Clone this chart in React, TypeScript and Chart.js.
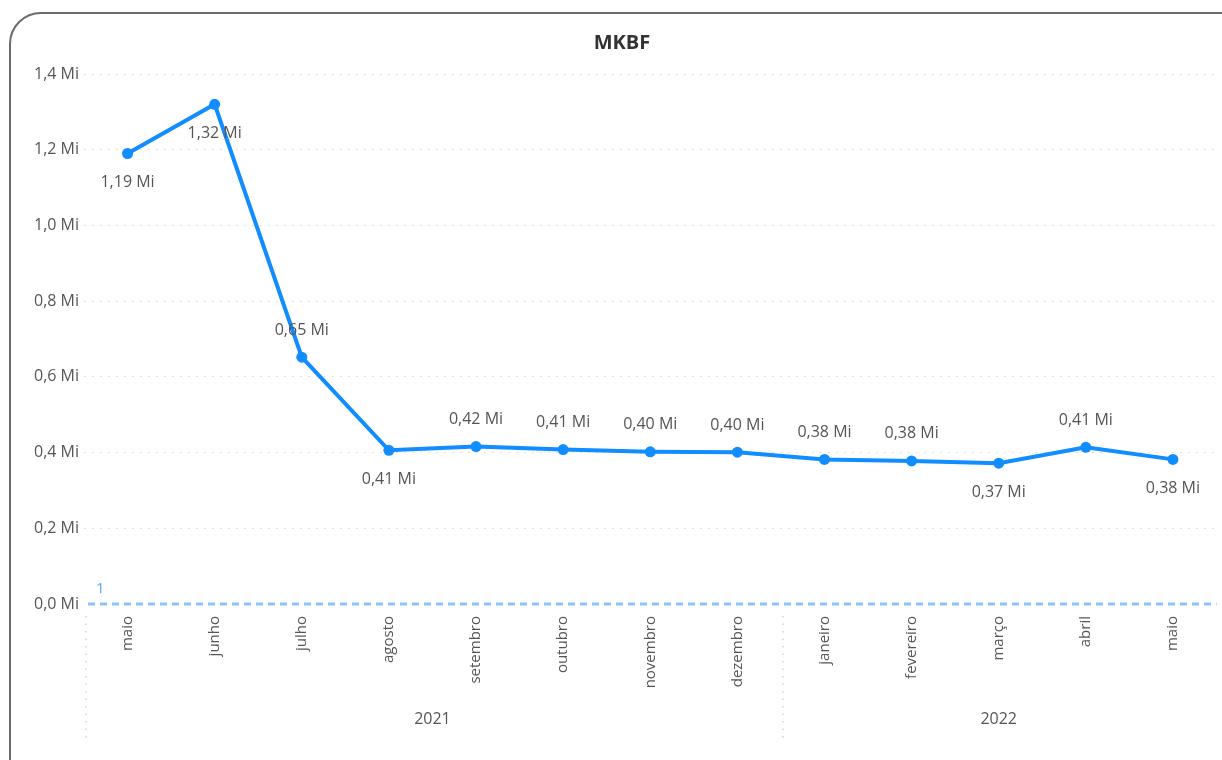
import React, { useEffect, useRef } from "react";
import { Chart, registerables } from "chart.js";

Chart.register(...registerables);

// Monthly MKBF values (millions)
const months = [
  "maio", "junho", "julho", "agosto", "setembro", "outubro", "novembro",
  "dezembro", "janeiro", "fevereiro", "março", "abril", "maio",
];
const mkbf = [1.19, 1.32, 0.652, 0.406, 0.416, 0.408, 0.402, 0.401, 0.382, 0.378, 0.372, 0.414, 0.382];
const labelSide = ["below", "below", "above", "below", "above", "above", "above", "above", "above", "above", "below", "above", "below"];

// Year groups: [year, first month index, last month index]
const yearGroups: [string, number, number][] = [
  ["2021", 0, 7],
  ["2022", 8, 12],
];

const yTicks = [0, 0.2, 0.4, 0.6, 0.8, 1.0, 1.2, 1.4];
const refValue = 0;
const refLabel = "1";

const FONT = "'Open Sans', 'Noto Sans', sans-serif";
const fmt = (v: number, d: number) => v.toFixed(d).replace(".", ",") + " Mi";

const overlay = {
  id: "overlay",
  beforeDatasetsDraw(chart: any) {
    const { ctx, chartArea, scales } = chart;
    const y = scales.y;
    const yy = y.getPixelForValue(refValue);
    ctx.save();
    ctx.strokeStyle = "#8cc4ff";
    ctx.lineWidth = 3;
    ctx.setLineDash([7, 5]);
    ctx.beginPath();
    ctx.moveTo(chartArea.left + 4, yy);
    ctx.lineTo(chartArea.right, yy);
    ctx.stroke();
    ctx.setLineDash([]);
    ctx.fillStyle = "#5aa6ff";
    ctx.font = `15px ${FONT}`;
    ctx.textAlign = "left";
    ctx.textBaseline = "bottom";
    ctx.fillText(refLabel, chartArea.left + 12, yy - 8);
    ctx.restore();
  },
  afterDatasetsDraw(chart: any) {
    const { ctx, chartArea, scales } = chart;
    const x = scales.x;
    const meta = chart.getDatasetMeta(0);
    ctx.save();
    // value labels
    ctx.fillStyle = "#555";
    ctx.font = `16px ${FONT}`;
    ctx.textAlign = "center";
    ctx.textBaseline = "middle";
    meta.data.forEach((pt: any, i: number) => {
      const dy = labelSide[i] === "above" ? -27 : 29;
      ctx.fillText(fmt(mkbf[i], 2), pt.x, pt.y + dy);
    });
    // title
    ctx.fillStyle = "#333";
    ctx.font = `bold 20px ${FONT}`;
    ctx.fillText("MKBF", 622, 43);
    // year groups and separators
    const half = (x.getPixelForValue(1) - x.getPixelForValue(0)) / 2;
    ctx.font = `16px ${FONT}`;
    ctx.fillStyle = "#555";
    ctx.strokeStyle = "#bbb";
    ctx.lineWidth = 1;
    ctx.setLineDash([1.5, 6]);
    yearGroups.forEach(([yr, a, b]) => {
      const l = x.getPixelForValue(a) - half;
      const r = x.getPixelForValue(b) + half;
      ctx.fillText(yr, (l + r) / 2, 719);
      ctx.beginPath();
      ctx.moveTo(l + 2, chartArea.bottom + 12);
      ctx.lineTo(l + 2, 742);
      ctx.stroke();
    });
    ctx.restore();
  },
};

export default function App() {
  const ref = useRef<HTMLCanvasElement>(null);
  useEffect(() => {
    const chart = new Chart(ref.current!, {
      type: "line",
      data: {
        labels: months,
        datasets: [
          {
            data: mkbf,
            borderColor: "#118DFF",
            backgroundColor: "#118DFF",
            borderWidth: 4,
            pointRadius: 5.5,
            pointBackgroundColor: "#118DFF",
            pointBorderWidth: 0,
            tension: 0,
          },
        ],
      },
      options: {
        responsive: false,
        animation: false,
        layout: { padding: { top: 74, right: 0, left: 0, bottom: 0 } },
        plugins: { legend: { display: false }, tooltip: { enabled: false }, title: { display: false } },
        scales: {
          x: {
            offset: true,
            grid: { display: false, drawTicks: false },
            border: { display: false },
            ticks: {
              minRotation: 90,
              maxRotation: 90,
              padding: 12,
              color: "#555",
              font: { family: FONT, size: 15 },
              autoSkip: false,
            },
            afterFit: (s: any) => { s.height = 156; },
          },
          y: {
            min: 0,
            max: 1.4,
            afterBuildTicks: (s: any) => { s.ticks = yTicks.map((v) => ({ value: v })); },
            grid: {
              color: (c: any) => (c.tick && c.tick.value === 0 ? "rgba(0,0,0,0)" : "#d6d6d6"),
              drawTicks: false,
              lineWidth: 1,
            },
            border: { display: false, dash: [1.5, 6.5] },
            ticks: {
              padding: 5,
              color: "#555",
              font: { family: FONT, size: 16 },
              callback: (v: any) => fmt(Number(v), 1),
            },
            afterFit: (s: any) => { s.width = 84; },
          },
        },
      },
      plugins: [overlay],
    });
    return () => chart.destroy();
  }, []);

  return (
    <div style={{ position: "fixed", left: 0, top: 0, width: 1222, height: 760, overflow: "hidden", background: "#fff" }}>
      <div
        style={{
          position: "absolute", left: 9, top: 12, width: 1250, height: 790,
          border: "2px solid #6b6b6b", borderRadius: 32, boxSizing: "border-box",
        }}
      />
      <canvas ref={ref} width={1222} height={760} style={{ position: "absolute", left: 0, top: 0 }} />
    </div>
  );
}
